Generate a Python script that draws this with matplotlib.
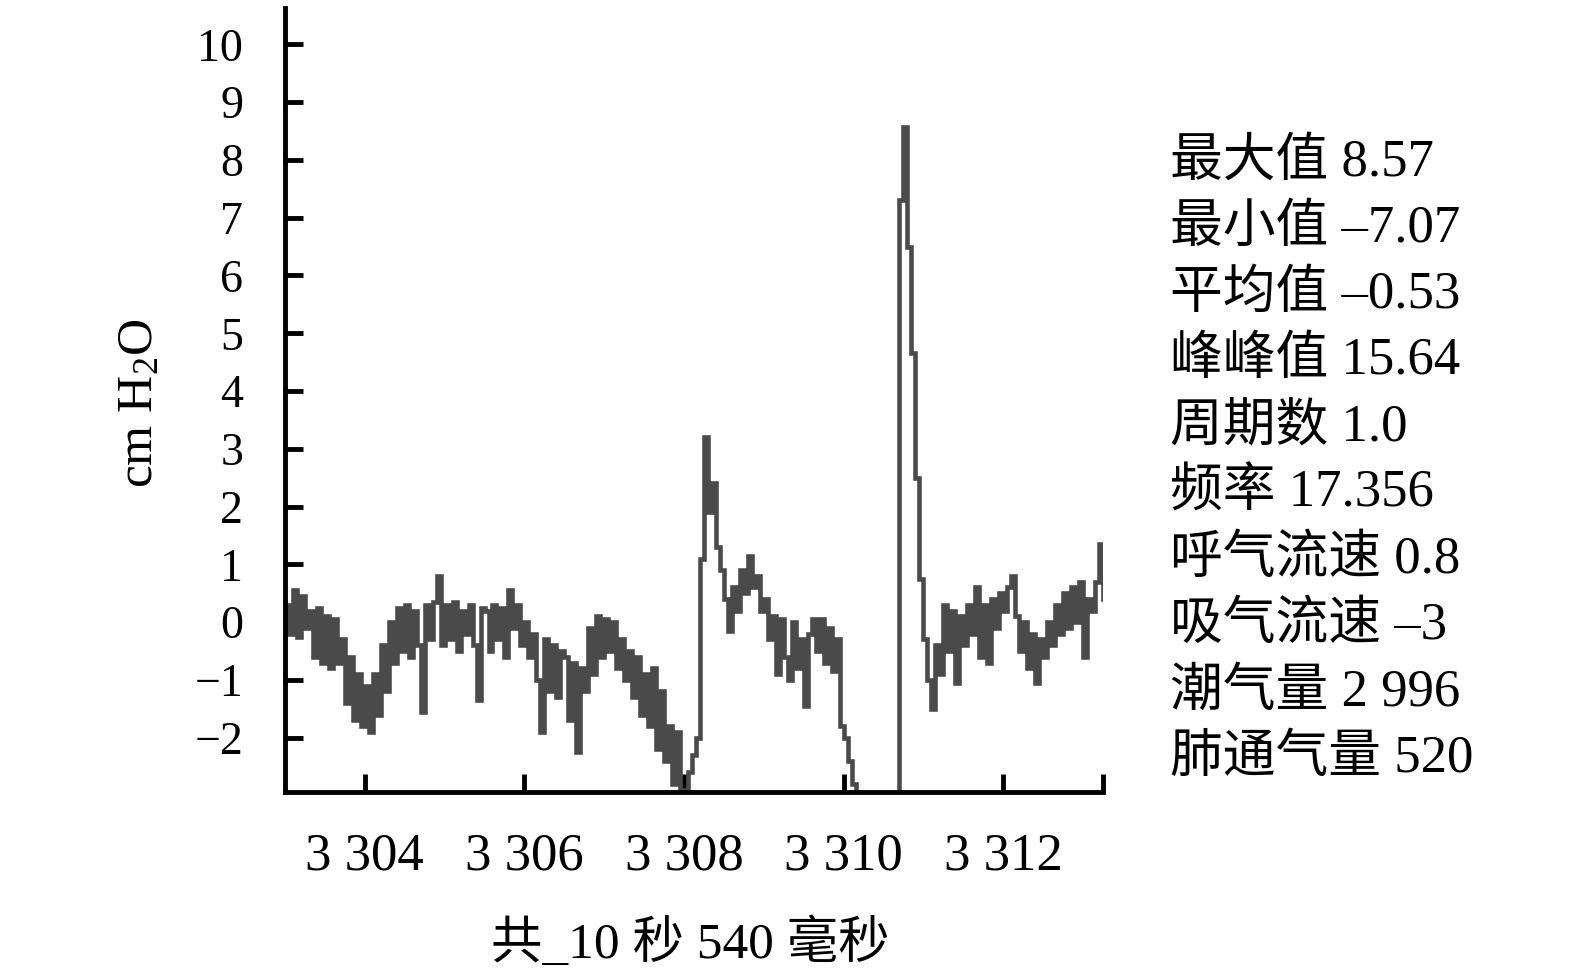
import numpy as np
import matplotlib
matplotlib.use('Agg')
import matplotlib.pyplot as plt

plt.rcParams['font.family'] = ['Liberation Serif', 'Noto Sans CJK SC', 'DejaVu Sans']
plt.rcParams['mathtext.fontset'] = 'custom'
plt.rcParams['mathtext.rm'] = 'Liberation Serif'
plt.rcParams['mathtext.it'] = 'Liberation Serif'

# pressure trace, one sample every 0.05 s starting at 3303.0 s
t_start, dt = 3303.0, 0.05
pressure = [
    0.3, -0.2, 0.55, -0.25, 0.45, -0.1, 0.2, -0.6, 0.25, -0.7,
    0.1, -0.8, 0.05, -0.7, -0.3, -1.4, -0.6, -1.7, -0.9, -1.8,
    -1.1, -1.9, -0.9, -1.6, -0.4, -1.2, 0.0, -0.7, 0.25, -0.5,
    0.3, -0.6, 0.2, -0.4, -1.55, 0.3, -0.3, 0.35, 0.8, -0.4,
    0.3, -0.3, 0.35, -0.5, 0.2, -0.2, 0.3, -0.4, -1.35, 0.25,
    0.2, -0.5, 0.3, -0.3, 0.25, -0.6, 0.55, -0.1, 0.3, -0.4,
    0.0, -0.6, -0.2, -1.0, -1.9, -0.3, -1.2, -0.4, -1.3, -0.5,
    -0.6, -1.7, -0.7, -2.25, -0.8, -1.2, -0.1, -0.9, 0.1, -0.6,
    0.05, -0.5, 0.0, -0.8, -0.3, -1.0, -0.5, -1.3, -0.6, -1.6,
    -0.9, -1.8, -0.8, -2.2, -1.2, -2.4, -1.8, -2.8, -1.9, -3.0,
    -2.9, -2.6, -2.3, -2.0, 1.1, 3.2, 1.9, 2.4, 1.3, 0.9,
    0.4, -0.15, 0.6, 0.2, 0.9, 0.5, 1.15, 0.6, 0.8, 0.2,
    0.4, -0.3, 0.1, -0.9, 0.05, -0.6, -1.0, 0.0, -0.8, -0.3,
    -1.45, -0.2, 0.05, -0.5, 0.05, -0.7, -0.1, -0.85, -0.3, -1.8,
    -2.0, -2.4, -2.8, -3.5, -5.0, -6.0, -7.07, -6.5, -6.0, -5.5,
    -5.5, -5.5, -5.0, -4.5, 7.3, 8.57, 6.5, 4.65, 2.5, 0.75,
    -0.3, -1.0, -1.5, -0.4, -0.9, 0.3, -0.5, 0.2, -1.05, 0.1,
    -0.4, 0.3, -0.2, 0.6, -0.6, 0.3, -0.7, 0.4, -0.1, 0.5,
    0.2, 0.6, 0.8, 0.1, -0.5, 0.0, -0.8, -0.2, -1.05, -0.3,
    -0.6, 0.0, -0.4, 0.3, -0.2, 0.5, -0.1, 0.6, 0.0, 0.7,
    -0.6, 0.4, 0.2, 0.7, 1.35, 0.4,
]
t = t_start + dt * np.arange(len(pressure))

x_ticks = [3304, 3306, 3308, 3310, 3312]
x_ticklabels = ['3 304', '3 306', '3 308', '3 310', '3 312']
y_ticks = list(range(-2, 11))

stat_names = ['最大值', '最小值', '平均值', '峰峰值', '周期数', '频率',
              '呼气流速', '吸气流速', '潮气量', '肺通气量']
stat_values = ['8.57', '–7.07', '–0.53', '15.64', '1.0', '17.356',
               '0.8', '–3', '2 996', '520']

fig = plt.figure(figsize=(15.75, 9.74), dpi=100)
ax = fig.add_axes([285/1575, 1 - 792/974, (1103-285)/1575, (792-8)/974])

ax.plot(t, pressure, color='#4a4a4a', lw=3.3, drawstyle='steps-post',
        solid_joinstyle='miter')

ax.set_xlim(3303.0, 3313.25)
ax.set_ylim(-2.94, 10.63)
ax.set_xticks(x_ticks)
ax.set_xticklabels(x_ticklabels)
ax.set_xticks([3313.25], minor=True)
ax.set_yticks(y_ticks)

for s in ['top', 'right']:
    ax.spines[s].set_visible(False)
for s in ['left', 'bottom']:
    ax.spines[s].set_linewidth(3.5)
ax.tick_params(axis='both', which='both', direction='in', width=3.5, length=13)
ax.tick_params(axis='x', labelsize=38, pad=29)
ax.tick_params(axis='y', labelsize=33, pad=30)

fig.text(140/1575, 1 - 403/974, r'cm H$_{\mathrm{2}}$O', rotation=90,
         ha='center', va='center', fontsize=37)
fig.text(690/1575, 1 - 944/974, '共_10 秒 540 毫秒', ha='center', va='center',
         fontsize=37)

for i, (name, val) in enumerate(zip(stat_names, stat_values)):
    fig.text(1170/1575, 1 - (162 + 66.3*i)/974, name + ' ' + val,
             ha='left', va='center', fontsize=38)

fig.savefig('out.png', dpi=100)
